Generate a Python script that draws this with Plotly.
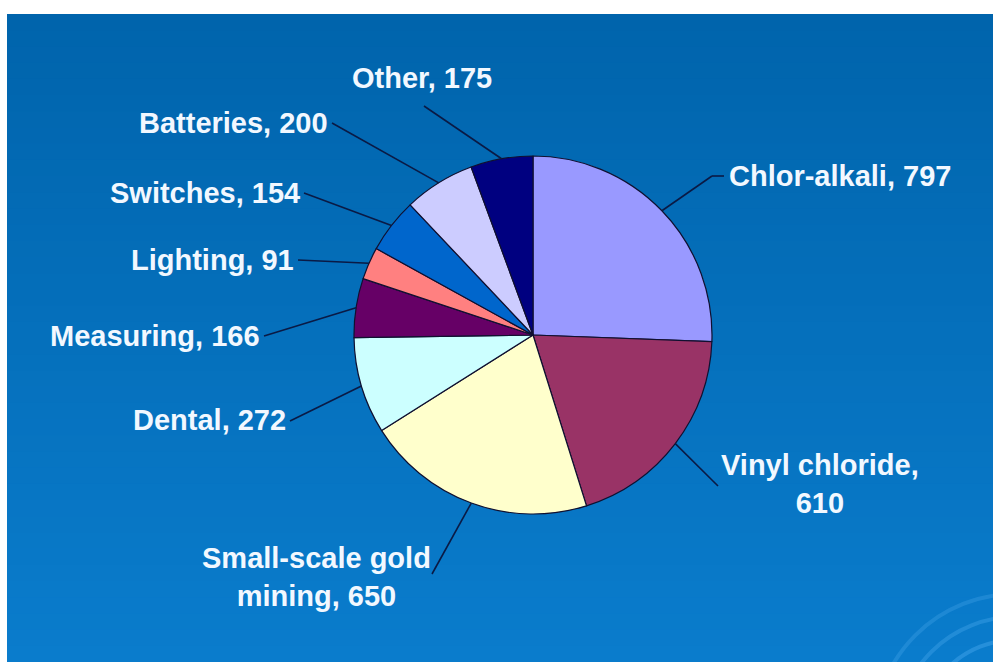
import math
import plotly.graph_objects as go

# ---- data ----
categories = ["Chlor-alkali", "Vinyl chloride", "Small-scale gold mining", "Dental",
              "Measuring", "Lighting", "Switches", "Batteries", "Other"]
values = [797, 610, 650, 272, 166, 91, 154, 200, 175]
label_texts = ["Chlor-alkali, 797", "Vinyl chloride,<br>610", "Small-scale gold<br>mining, 650",
               "Dental, 272", "Measuring, 166", "Lighting, 91", "Switches, 154",
               "Batteries, 200", "Other, 175"]
colors = ["#9999FF", "#993366", "#FFFFCC", "#CCFFFF", "#660066",
          "#FF8080", "#0066CC", "#CCCCFF", "#000080"]

W, H = 993, 662
CX, CY, R = 533, 335, 179  # pie centre / radius in pixels (layout)

# label placement (pixels): text anchor point, xanchor, leader start point
label_layout = {
    "Chlor-alkali":            dict(tx=727, ty=176, xa="left",   lx=(724, 176), bend=(712, 176)),
    "Vinyl chloride":          dict(tx=820, ty=484, xa="center", lx=(718, 486), bend=None),
    "Small-scale gold mining": dict(tx=316, ty=577, xa="center", lx=(432, 574), bend=None),
    "Dental":                  dict(tx=288, ty=420, xa="right",  lx=(290, 421), bend=None),
    "Measuring":               dict(tx=262, ty=336, xa="right",  lx=(264, 336), bend=None),
    "Lighting":                dict(tx=296, ty=260, xa="right",  lx=(298, 260), bend=None),
    "Switches":                dict(tx=302, ty=193, xa="right",  lx=(304, 193), bend=None),
    "Batteries":               dict(tx=330, ty=123, xa="right",  lx=(332, 123), bend=None),
    "Other":                   dict(tx=422, ty=78,  xa="center", lx=(424, 106), bend=None),
}

def px(x):
    return x / W

def py(y):
    return 1 - y / H

fig = go.Figure()

fig.add_trace(go.Pie(
    labels=categories,
    values=values,
    sort=False,
    direction="clockwise",
    rotation=0,
    marker=dict(colors=colors, line=dict(color="#101030", width=1.2)),
    textinfo="none",
    hoverinfo="label+value",
    showlegend=False,
    domain=dict(x=[px(CX - R), px(CX + R)], y=[py(CY + R), py(CY - R)]),
))

shapes = []
# gradient background bands (decoration)
top_rgb = (0, 100, 172)
bot_rgb = (10, 124, 204)
n = 40
y0, y1 = 14, H
for i in range(n):
    t = i / (n - 1)
    c = tuple(round(top_rgb[k] + (bot_rgb[k] - top_rgb[k]) * t) for k in range(3))
    ya = y0 + (y1 - y0) * i / n
    yb = y0 + (y1 - y0) * (i + 1) / n + 1
    shapes.append(dict(type="rect", xref="paper", yref="paper", layer="below",
                       x0=px(7), x1=1, y0=max(0, py(yb)), y1=py(ya),
                       line=dict(width=0), fillcolor="rgb(%d,%d,%d)" % c))
# faint decorative arcs bottom-right
for r, a in [(95, 0.35), (118, 0.3), (141, 0.25)]:
    shapes.append(dict(type="circle", xref="paper", yref="paper", layer="below",
                       x0=px(1015 - r), x1=px(1015 + r), y0=py(735 + r), y1=py(735 - r),
                       line=dict(color="rgba(90,180,245,%.2f)" % a, width=4)))

# leader lines from slice mid-angles to labels
total = sum(values)
cum = 0
annotations = []
for cat, val, txt in zip(categories, values, label_texts):
    mid = (cum + val / 2) / total * 2 * math.pi
    cum += val
    ex = CX + R * math.sin(mid)
    ey = CY - R * math.cos(mid)
    L = label_layout[cat]
    pts = [(ex, ey)]
    if L["bend"]:
        pts.append(L["bend"])
    pts.append(L["lx"])
    for (xa_, ya_), (xb_, yb_) in zip(pts[:-1], pts[1:]):
        shapes.append(dict(type="line", xref="paper", yref="paper",
                           x0=px(xa_), y0=py(ya_), x1=px(xb_), y1=py(yb_),
                           line=dict(color="#0a1a45", width=1.6)))
    annotations.append(dict(
        x=px(L["tx"]), y=py(L["ty"]), xref="paper", yref="paper",
        text=txt, showarrow=False, xanchor=L["xa"], yanchor="middle",
        align="center",
        font=dict(family="Liberation Sans Narrow, Arial Narrow, Liberation Sans, Arial, sans-serif",
                  size=29, color="#F2F8FF", weight="bold"),
    ))

fig.update_layout(
    width=W, height=H,
    margin=dict(l=0, r=0, t=0, b=0),
    paper_bgcolor="white",
    plot_bgcolor="white",
    shapes=shapes,
    annotations=annotations,
)

fig.write_html("out.html",
               config={"displayModeBar": False},
               post_script="document.body.style.margin='0';document.body.style.overflow='hidden';")
